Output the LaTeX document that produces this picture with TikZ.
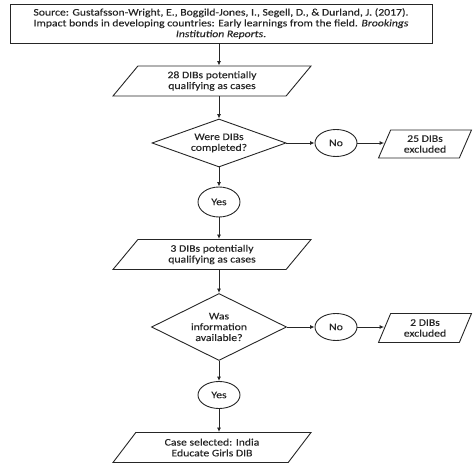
\documentclass[tikz,border=0pt]{standalone}
\usepackage{fontspec}
\setmainfont{Carlito}[FakeStretch=1.17,FakeBold=0.3]
\usetikzlibrary{shapes.geometric,arrows.meta}
\begin{document}
\begin{tikzpicture}[x=1pt,y=-1pt,
  every node/.style={font=\fontsize{10}{10.8}\selectfont, align=center, inner sep=0pt, text=black!85},
  line/.style={draw=black!85, line width=0.9pt},
  arr/.style={line, -{Latex[length=4.5pt,width=4pt]}},
  srcbox/.style={line, rectangle, minimum width=422pt, minimum height=39pt},
  para/.style={line, trapezium, trapezium left angle=38, trapezium right angle=142, trapezium stretches body, minimum width=198pt, minimum height=30pt},
  smallpara/.style={line, trapezium, trapezium left angle=55, trapezium right angle=125, trapezium stretches body, minimum width=93pt, minimum height=28pt},
  decision/.style={line, diamond, aspect=2.5},
  answer/.style={line, ellipse, minimum width=42pt, minimum height=27pt},
]
\useasboundingbox (0,0) rectangle (474,470);
\node[srcbox] (src) at (221,23.5) {Source: Gustafsson-Wright, E., Boggild-Jones, I., Segell, D., \& Durland, J. (2017).\\Impact bonds in developing countries: Early learnings from the field. \textit{Brookings}\\\textit{Institution Reports}.};
\node[para] (p1) at (212,81) {28 DIBs potentially\\qualifying as cases};
\node[decision, minimum width=134pt, minimum height=48pt] (d1) at (219,143) {Were DIBs\\completed?};
\node[answer] (no1) at (336,143) {No};
\node[smallpara] (x1) at (425,144) {25 DIBs\\excluded};
\node[answer, minimum height=30pt] (yes1) at (219,202) {Yes};
\node[para] (p2) at (212,254.5) {3 DIBs potentially\\qualifying as cases};
\node[decision, minimum width=135pt, minimum height=67pt] (d2) at (219,327) {Was\\information\\available?};
\node[answer] (no2) at (336,327) {No};
\node[smallpara, minimum height=29pt] (x2) at (425,328) {2 DIBs\\excluded};
\node[answer] (yes2) at (219,395) {Yes};
\node[para] (p3) at (212,447.5) {Case selected: India\\Educate Girls DIB};
\draw[arr] (d1 |- src.south) -- (d1 |- p1.north);
\draw[arr] (d1 |- p1.south) -- (d1.north);
\draw[arr] (d1.east) -- (no1.west);
\draw[arr] (no1.east) -- (no1.east -| x1.west);
\draw[arr] (d1.south) -- (yes1.north);
\draw[arr] (yes1.south) -- (d1 |- p2.north);
\draw[arr] (d1 |- p2.south) -- (d2.north);
\draw[arr] (d2.east) -- (no2.west);
\draw[arr] (no2.east) -- (no2.east -| x2.west);
\draw[arr] (d2.south) -- (yes2.north);
\draw[arr] (yes2.south) -- (d1 |- p3.north);
\end{tikzpicture}
\end{document}
